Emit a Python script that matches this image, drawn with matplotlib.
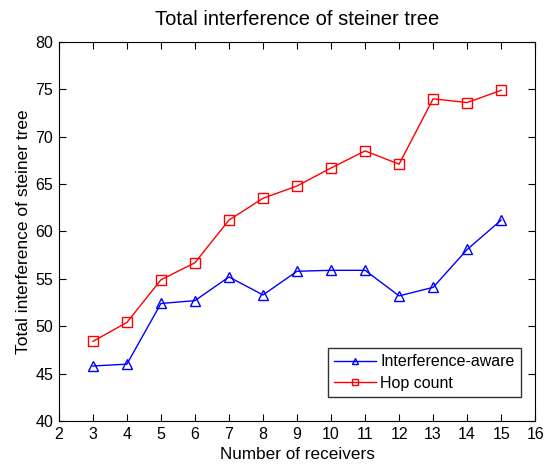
import matplotlib
matplotlib.use("Agg")
import matplotlib.pyplot as plt

receivers = [3, 4, 5, 6, 7, 8, 9, 10, 11, 12, 13, 14, 15]
interference_aware = [45.8, 46.0, 52.4, 52.7, 55.2, 53.3, 55.8, 55.9, 55.9, 53.2, 54.1, 58.1, 61.2]
hop_count = [48.4, 50.4, 54.9, 56.7, 61.2, 63.5, 64.8, 66.7, 68.5, 67.1, 74.0, 73.6, 74.9]
xticks = list(range(2, 17))
yticks = list(range(40, 81, 5))

plt.rcParams['font.family'] = ['Liberation Sans', 'DejaVu Sans']

fig = plt.figure(figsize=(5.45, 4.66), dpi=100)
ax = fig.add_axes([0.108, 0.0966, 0.874, 0.8134])

ax.plot(receivers, interference_aware, color='#0000ff', marker='^', markersize=7.5,
        markerfacecolor='none', markeredgewidth=1.0, linewidth=1.0, label='Interference-aware')
ax.plot(receivers, hop_count, color='#ff0000', marker='s', markersize=7.5,
        markerfacecolor='none', markeredgewidth=1.0, linewidth=1.0, label='Hop count')

ax.set_xlim(2, 16)
ax.set_ylim(40, 80)
ax.set_xticks(xticks)
ax.set_yticks(yticks)
ax.tick_params(direction='in', top=True, right=True, labelsize=11.5, length=5, pad=4)
ax.set_xlabel('Number of receivers', fontsize=12.3, labelpad=4)
ax.set_ylabel('Total interference of steiner tree', fontsize=12.5, labelpad=3)
ax.set_title('Total interference of steiner tree', fontsize=14.5, pad=12)

leg = ax.legend(loc='lower right', bbox_to_anchor=(0.9706, 0.0633), fontsize=11.5, frameon=True,
                fancybox=False, edgecolor='black', handlelength=2.6, borderpad=0.4,
                labelspacing=0.4, handletextpad=0.3, borderaxespad=0)
leg.get_frame().set_linewidth(1.0)
for h in leg.legend_handles:
    h.set_markersize(5)

fig.savefig('out.png', dpi=100)
